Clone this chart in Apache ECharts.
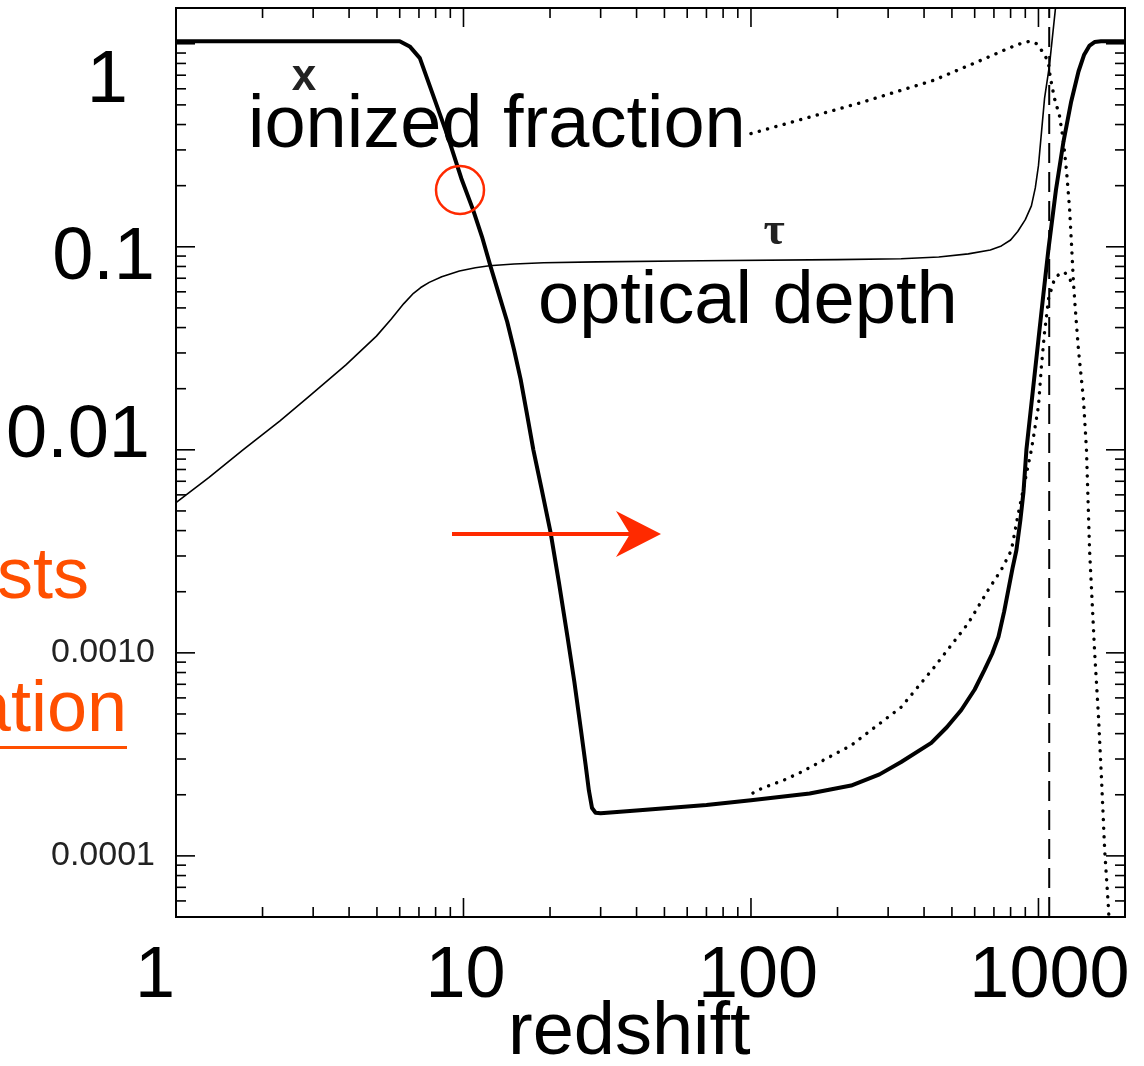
<!DOCTYPE html>
<html><head><meta charset="utf-8">
<script src="https://cdn.jsdelivr.net/npm/echarts@6/dist/echarts.min.js"></script>
<style>html,body{margin:0;padding:0;background:#fff}#c{width:1144px;height:1066px}</style>
</head><body><div id="c"></div>
<script>
// ---------- data ----------
const xRange = [1, 2000];
const yRange = [5e-5, 1.5];
const xMajorTicks = [1, 10, 100, 1000];
const xTickLabels = ['1', '10', '100', '1000'];
const yMajorTicks = [1e-4, 1e-3, 1e-2, 1e-1, 1];
const yTickLabels = ['0.0001', '0.0010', '0.01', '0.1', '1'];
const minorMultipliers = [2, 3, 4, 5, 6, 7, 8, 9];

// ionized fraction x (thick solid)
const ionizedFraction = [
  [1, 1.03], [6.0, 1.03], [6.5, 0.97], [7.05, 0.85], [8.8, 0.353], [9.83, 0.217], [10.8, 0.152],
  [11.6, 0.112], [12.4, 0.0806], [13.3, 0.058], [14.2, 0.0426], [15.0, 0.031], [15.8, 0.0223],
  [16.6, 0.0152], [17.5, 0.0100], [18.7, 0.0064], [20.1, 0.0039], [21.5, 0.0022],
  [23.0, 0.0012], [24.3, 0.00072], [25.6, 0.00042], [26.6, 0.00028], [27.3, 0.00021],
  [28.0, 0.000172], [28.8, 0.000163], [30, 0.000162], [41, 0.000168], [70, 0.000178],
  [100, 0.000188], [160, 0.000203], [223, 0.000222], [280, 0.000252], [333, 0.000290],
  [424, 0.00036], [480, 0.00043], [539, 0.000523], [600, 0.00066], [649, 0.000824],
  [690, 0.00099], [726, 0.0012], [760, 0.0016], [786, 0.00205], [812, 0.0026],
  [838, 0.0032], [865, 0.0045], [887, 0.0062], [908, 0.0100], [950, 0.018], [1000, 0.035],
  [1040, 0.058], [1084, 0.098], [1150, 0.19], [1222, 0.33], [1300, 0.52], [1378, 0.73],
  [1440, 0.88], [1506, 0.98], [1567, 1.02], [1650, 1.03], [2000, 1.03]
];
// optical depth tau (thin solid)
const opticalDepth = [
  [1, 0.0055], [1.3, 0.0073], [1.71, 0.0100], [2.3, 0.0139], [2.91, 0.0184], [3.9, 0.0262],
  [4.98, 0.0363], [5.6, 0.0440], [6.2, 0.0525], [6.7, 0.0590], [7.1, 0.0630], [7.6, 0.0668],
  [8.4, 0.0712], [9.68, 0.0760], [11, 0.0789], [12.3, 0.0806], [15, 0.0823],
  [19, 0.0834], [29, 0.0843], [67, 0.0853], [200, 0.0864], [333, 0.0873], [450, 0.0890],
  [570, 0.0923], [680, 0.0965], [743, 0.101], [800, 0.108], [847, 0.119], [900, 0.136],
  [945, 0.159], [975, 0.195], [1000, 0.251], [1050, 0.538], [1092, 0.783], [1156, 1.68], [1250, 4]
];
// dotted curve, upper branch
const dottedUpper = [
  [100, 0.361], [238, 0.51], [431, 0.66], [620, 0.82], [786, 0.95], [880, 1.01], [938, 1.03],
  [985, 1.0], [1024, 0.93], [1060, 0.86], [1084, 0.80], [1100, 0.68], [1137, 0.538],
  [1183, 0.443], [1222, 0.33], [1253, 0.234], [1283, 0.154], [1303, 0.103], [1324, 0.066],
  [1350, 0.045], [1378, 0.031], [1434, 0.0177], [1469, 0.0100], [1506, 0.0032],
  [1567, 0.00103], [1618, 0.00048], [1659, 0.00023], [1700, 0.000106], [1754, 0.000054],
  [1780, 0.00003]
];
// dotted curve, lower branch
const dottedLower = [
  [101.6, 0.000204], [109, 0.000215], [130, 0.000236], [149, 0.000258], [223, 0.00035],
  [333, 0.00054], [434, 0.00085], [570, 0.0014], [670, 0.00205], [743, 0.00257],
  [805, 0.0032], [847, 0.0047], [945, 0.0100], [1000, 0.0164], [1024, 0.0258],
  [1050, 0.038], [1084, 0.0553], [1110, 0.062], [1137, 0.0695], [1183, 0.0736],
  [1232, 0.075], [1283, 0.0695], [1310, 0.066]
];
// recombination redshift (dashed vertical line)
const recombinationZ = 1090;

// ---------- ticks built from the major tick arrays ----------
function minorOf(majors, lo, hi) {
  const out = [];
  const decades = [majors[0] / 10].concat(majors);
  decades.forEach(d => minorMultipliers.forEach(m => {
    const v = d * m;
    if (v > lo * 0.999 && v < hi * 1.001 && !majors.some(t => Math.abs(t - v) < 1e-12)) out.push(v);
  }));
  return out;
}
const tickData = [];
xMajorTicks.forEach(v => tickData.push([v, yRange[0], 0, 1]));
minorOf(xMajorTicks, xRange[0], xRange[1]).forEach(v => tickData.push([v, yRange[0], 0, 0]));
yMajorTicks.forEach(v => tickData.push([xRange[0], v, 1, 1]));
minorOf(yMajorTicks, yRange[0], yRange[1]).forEach(v => tickData.push([xRange[0], v, 1, 0]));

function labelFor(v, majors, labels) {
  const lv = Math.log10(v);
  for (let i = 0; i < majors.length; i++) {
    if (Math.abs(Math.log10(majors[i]) - lv) < 1e-6) return labels[i];
  }
  return null;
}
const xRichKey = {'1': 'a', '10': 'b', '100': 'c', '1000': 'd'};
const yRichKey = {'0.0001': 's', '0.0010': 's', '0.01': 'c', '0.1': 'b', '1': 'a'};

const FONT = "'Liberation Sans', Arial, Helvetica, sans-serif";
const chart = echarts.init(document.getElementById('c'), null, {renderer: 'canvas'});

function renderTick(params, api) {
  const xv = api.value(0), yv = api.value(1), axis = api.value(2), major = api.value(3);
  const len = major ? 19 : 10;
  const st = {stroke: '#000', lineWidth: 1.6};
  if (axis === 0) {
    const b = api.coord([xv, yRange[0]]), t = api.coord([xv, yRange[1]]);
    return {type: 'group', children: [
      {type: 'line', shape: {x1: b[0], y1: b[1], x2: b[0], y2: b[1] - len}, style: st},
      {type: 'line', shape: {x1: t[0], y1: t[1], x2: t[0], y2: t[1] + len}, style: st}
    ]};
  }
  const l = api.coord([xRange[0], yv]), r = api.coord([xRange[1], yv]);
  return {type: 'group', children: [
    {type: 'line', shape: {x1: l[0], y1: l[1], x2: l[0] + len, y2: l[1]}, style: st},
    {type: 'line', shape: {x1: r[0], y1: r[1], x2: r[0] - len, y2: r[1]}, style: st}
  ]};
}

const dotStyle = {color: '#000', width: 3.4, type: [0.1, 8.5], cap: 'round'};

chart.setOption({
  animation: false,
  backgroundColor: '#fff',
  grid: {left: 176, right: 19, top: 8, bottom: 149, show: true, borderColor: '#000', borderWidth: 2,
         backgroundColor: 'transparent', containLabel: false, outerBoundsMode: 'none'},
  xAxis: {
    type: 'log', logBase: 10, min: xRange[0], max: xRange[1],
    axisLine: {show: false}, axisTick: {show: false}, splitLine: {show: false},
    axisLabel: {
      margin: 24, color: '#000', fontFamily: FONT,
      formatter: v => { const s = labelFor(v, xMajorTicks, xTickLabels); return s ? '{' + xRichKey[s] + '|' + s + '}' : ''; },
      rich: {
        a: {fontSize: 72, lineHeight: 72, fontFamily: FONT, color: '#000', padding: [0, 42, 0, 0]},
        b: {fontSize: 72, lineHeight: 72, fontFamily: FONT, color: '#000', padding: [0, 0, 0, 4]},
        c: {fontSize: 72, lineHeight: 72, fontFamily: FONT, color: '#000', padding: [0, 0, 0, 14]},
        d: {fontSize: 72, lineHeight: 72, fontFamily: FONT, color: '#000', padding: [0, 0, 0, 22]}
      }
    }
  },
  yAxis: {
    type: 'log', logBase: 10, min: yRange[0], max: yRange[1],
    axisLine: {show: false}, axisTick: {show: false}, splitLine: {show: false},
    axisLabel: {
      margin: 21, color: '#000', fontFamily: FONT,
      formatter: v => { const s = labelFor(v, yMajorTicks, yTickLabels); return s ? '{' + yRichKey[s] + '|' + s + '}' : ''; },
      rich: {
        s: {fontSize: 34, lineHeight: 36, fontFamily: FONT, color: '#222'},
        a: {fontSize: 74, lineHeight: 74, fontFamily: FONT, color: '#000', padding: [76, 27, 0, 0]},
        b: {fontSize: 74, lineHeight: 74, fontFamily: FONT, color: '#000', padding: [24, 0, 0, 0]},
        c: {fontSize: 74, lineHeight: 74, fontFamily: FONT, color: '#000', padding: [0, 5, 26, 0]}
      }
    }
  },
  series: [
    {type: 'custom', name: 'ticks', data: tickData, encode: {x: 0, y: 1}, renderItem: renderTick, clip: false, silent: true, z: 5},
    {type: 'line', name: 'tau', data: opticalDepth, showSymbol: false, smooth: false,
     lineStyle: {color: '#000', width: 1.6, join: 'round'}, clip: true, z: 3},
    {type: 'line', name: 'dotted upper', data: dottedUpper, showSymbol: false, smooth: false,
     lineStyle: dotStyle, clip: true, z: 3},
    {type: 'line', name: 'dotted lower', data: dottedLower, showSymbol: false, smooth: false,
     lineStyle: dotStyle, clip: true, z: 3},
    {type: 'line', name: 'x', data: ionizedFraction, showSymbol: false, smooth: false,
     lineStyle: {color: '#000', width: 4, join: 'round'}, clip: true, z: 4},
    {type: 'line', name: 'recombination', data: [[recombinationZ, yRange[0]], [recombinationZ, yRange[1]]],
     showSymbol: false, lineStyle: {color: '#000', width: 2, type: [20, 9]}, clip: true, z: 3}
  ],
  graphic: [
    {type: 'text', x: 248, y: 127, z: 100, style: {text: 'ionized fraction', font: '74px ' + FONT, fill: '#000', align: 'left', verticalAlign: 'middle'}},
    {type: 'text', x: 538, y: 303, z: 100, style: {text: 'optical depth', font: '74px ' + FONT, fill: '#000', align: 'left', verticalAlign: 'middle'}},
    {type: 'text', x: 508, y: 1034, z: 100, style: {text: 'redshift', font: '74px ' + FONT, fill: '#000', align: 'left', verticalAlign: 'middle'}},
    {type: 'text', x: 304, y: 78, z: 100, style: {text: 'x', font: 'bold 44px ' + FONT, fill: '#222', align: 'center', verticalAlign: 'middle'}},
    {type: 'text', x: 774, y: 232, z: 100, style: {text: 'τ', font: 'bold 46px "Liberation Serif", "DejaVu Serif", serif', fill: '#222', align: 'center', verticalAlign: 'middle'}},
    {type: 'text', x: 89, y: 578, z: 100, style: {text: 'sts', font: '72px ' + FONT, fill: '#ff4f00', align: 'right', verticalAlign: 'middle'}},
    {type: 'text', x: 127, y: 711, z: 100, style: {text: 'ation', font: '72px ' + FONT, fill: '#ff4f00', align: 'right', verticalAlign: 'middle'}},
    {type: 'rect', z: 100, shape: {x: 0, y: 746, width: 127, height: 3}, style: {fill: '#ff4f00'}},
    {type: 'circle', z: 100, shape: {cx: 460, cy: 190, r: 24}, style: {fill: 'none', stroke: '#ff2a00', lineWidth: 2.5}},
    {type: 'line', z: 100, shape: {x1: 452, y1: 534, x2: 632, y2: 534}, style: {stroke: '#ff2a00', lineWidth: 4}},
    {type: 'polygon', z: 100, shape: {points: [[661, 534], [616, 511], [630, 534], [616, 557]]}, style: {fill: '#ff2a00'}}
  ]
});
</script></body></html>
